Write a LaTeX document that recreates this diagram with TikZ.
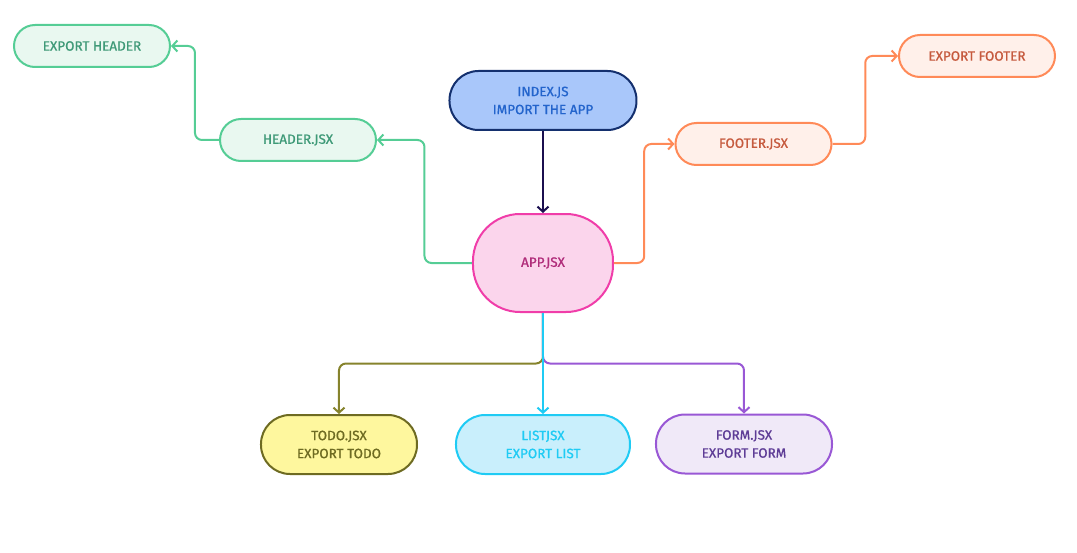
\documentclass[tikz,border=0pt]{standalone}
\usepackage{fontspec}
\setmainfont{Fira Sans}
\newfontfamily\labelfont[FakeBold=0.9]{Fira Sans}
\usetikzlibrary{positioning,calc,arrows.meta}

\definecolor{grnline}{HTML}{55CD95}
\definecolor{grnfill}{HTML}{E9F8F0}
\definecolor{grntext}{HTML}{3F9A78}
\definecolor{idxline}{HTML}{14306E}
\definecolor{idxfill}{HTML}{A9C7FA}
\definecolor{idxtext}{HTML}{2364CC}
\definecolor{idxarrow}{HTML}{1B0F4F}
\definecolor{appline}{HTML}{F03DA9}
\definecolor{appfill}{HTML}{FBD5EC}
\definecolor{apptext}{HTML}{B02C7A}
\definecolor{orgline}{HTML}{FF8A58}
\definecolor{orgfill}{HTML}{FFF0EA}
\definecolor{orgtext}{HTML}{C65A3E}
\definecolor{todoline}{HTML}{6E6B22}
\definecolor{todofill}{HTML}{FEF79E}
\definecolor{todoarrow}{HTML}{86832C}
\definecolor{listline}{HTML}{1FCBF4}
\definecolor{listfill}{HTML}{C9EFFC}
\definecolor{formline}{HTML}{9958D5}
\definecolor{formfill}{HTML}{F0E9F8}
\definecolor{formtext}{HTML}{5E3C96}

\begin{document}
\begin{tikzpicture}
[every node/.style={draw,line width=2pt,rectangle,align=center,inner sep=0pt,
   font=\labelfont\fontsize{13.5}{18}\selectfont},
 pill/.style={minimum width=156pt,minimum height=42pt,rounded corners=21pt},
 tall/.style={minimum height=59pt,rounded corners=29pt},
 grn/.style={pill,draw=grnline,fill=grnfill,text=grntext},
 org/.style={pill,draw=orgline,fill=orgfill,text=orgtext},
 link/.style={line width=2pt,rounded corners=7pt,-{Straight Barb[length=5pt,width=11pt]}}]
\useasboundingbox (-543pt,-289pt) rectangle (534pt,263pt);
\node[draw=appline,fill=appfill,text=apptext,minimum width=140pt,minimum height=98pt,
      rounded corners=47pt] (app) {APP.JSX};
\node[tall,draw=idxline,fill=idxfill,text=idxtext,minimum width=187pt] (index)
      [on grid,above=162.5pt of app] {INDEX.JS\\IMPORT THE APP};
\node[grn] (header)    [on grid,above  left=123pt and 245pt of app]     {HEADER.JSX};
\node[grn] (exphead)   [on grid,above  left=94pt and 206pt of header]   {EXPORT HEADER};
\node[org] (footer)    [on grid,above right=119pt and 210.5pt of app]   {FOOTER.JSX};
\node[org] (expfoot)   [on grid,above right=88pt and 223.5pt of footer] {EXPORT FOOTER};
\node[tall,draw=todoline,fill=todofill,text=todoline,minimum width=156pt] (todo)
      [on grid,below  left=181.5pt and 204pt of app] {TODO.JSX\\EXPORT TODO};
\node[tall,draw=listline,fill=listfill,text=listline,minimum width=174pt] (list)
      [on grid,below=181.5pt of app] {LISTJSX\\EXPORT LIST};
\node[tall,draw=formline,fill=formfill,text=formtext,minimum width=176pt] (form)
      [on grid,below right=181pt and 201pt of app] {FORM.JSX\\EXPORT FORM};
\coordinate (split) at ($(app.south)!0.5!(list.north)$);
\draw[link,idxarrow]  (index.south) -- (app.north);
\draw[link,grnline]   (app.west) -| ($(app.west)!0.5!(header.east)$) |- (header.east);
\draw[link,grnline]   (header.west) -| ($(header.west)!0.5!(exphead.east)$) |- (exphead.east);
\draw[link,orgline]   (app.east) -| ($(app.east)!0.5!(footer.west)$) |- (footer.west);
\draw[link,orgline]   (footer.east) -| ($(footer.east)!0.5!(expfoot.west)$) |- (expfoot.west);
\draw[link,todoarrow] (app.south) -- (split) -| (todo.north);
\draw[link,formline]  (app.south) -- (split) -| (form.north);
\draw[link,listline]  (app.south) -- (list.north);
\end{tikzpicture}
\end{document}
